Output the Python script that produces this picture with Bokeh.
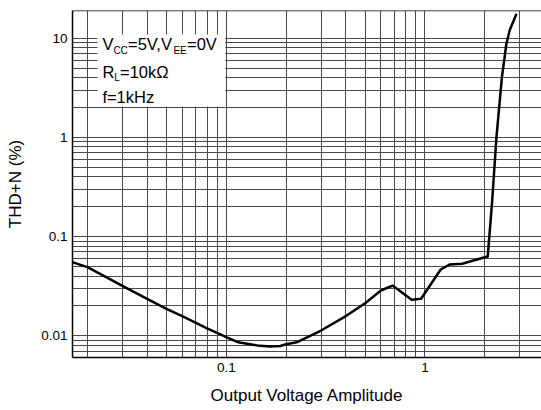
from bokeh.plotting import figure
from bokeh.models import FixedTicker, Label, BoxAnnotation, Span, CustomJSTickFormatter
from bokeh.embed import file_html
from bokeh.resources import INLINE

# Output voltage amplitude (V) and THD+N (%)
amp = [0.0168, 0.02, 0.0261, 0.03, 0.04, 0.05, 0.06, 0.07, 0.08, 0.09, 0.1,
       0.115, 0.143, 0.166, 0.187, 0.2, 0.226, 0.3, 0.4, 0.5, 0.6, 0.687,
       0.763, 0.857, 0.956, 1.2, 1.33, 1.54, 2.0, 2.07, 2.18, 2.29, 2.44,
       2.57, 2.67, 2.89]
thd = [0.0552, 0.0492, 0.037, 0.0318, 0.0235, 0.0187, 0.0158, 0.0136, 0.0119,
       0.0107, 0.0097, 0.0086, 0.0080, 0.0078, 0.0079, 0.0082, 0.0086, 0.0113,
       0.0158, 0.0213, 0.0286, 0.0321, 0.0275, 0.0231, 0.0236, 0.0466, 0.0523,
       0.0532, 0.0619, 0.063, 0.231, 1.0, 4.05, 8.78, 12.0, 17.6]

x_major = [0.1, 1]
x_minor = [0.02, 0.03, 0.04, 0.05, 0.06, 0.07, 0.08, 0.09,
           0.2, 0.3, 0.4, 0.5, 0.6, 0.7, 0.8, 0.9, 2, 3]
y_major = [0.01, 0.1, 1, 10]
y_minor = [0.007, 0.008, 0.009,
           0.02, 0.03, 0.04, 0.05, 0.06, 0.07, 0.08, 0.09,
           0.2, 0.3, 0.4, 0.5, 0.6, 0.7, 0.8, 0.9,
           2, 3, 4, 5, 6, 7, 8, 9]

FONT = "Liberation Sans"
GRID = "#4a4a4a"

p = figure(width=541, height=410, x_axis_type="log", y_axis_type="log",
           x_range=(0.01683, 3.86), y_range=(0.00604, 19.0),
           output_backend="svg", toolbar_location=None,
           min_border_left=72, min_border_right=0, min_border_top=10,
           min_border_bottom=53)
p.outline_line_color = None
p.background_fill_color = "white"

fmt = CustomJSTickFormatter(code="return String(tick);")
p.xaxis.ticker = FixedTicker(ticks=x_major, minor_ticks=x_minor)
p.yaxis.ticker = FixedTicker(ticks=y_major, minor_ticks=y_minor)
for ax in (p.xaxis[0], p.yaxis[0]):
    ax.formatter = fmt
    ax.major_tick_out = 0
    ax.major_tick_in = 0
    ax.minor_tick_out = 0
    ax.minor_tick_in = 0
    ax.axis_line_color = "black"
    ax.axis_line_width = 1.5
    ax.major_label_text_font = FONT
    ax.major_label_text_font_size = "13.5px"
    ax.major_label_text_color = "black"
    ax.major_label_standoff = 5
    ax.axis_label_text_font = FONT
    ax.axis_label_text_font_size = "17px"
    ax.axis_label_text_font_style = "normal"
    ax.axis_label_text_color = "black"

p.xaxis.axis_label = "Output Voltage Amplitude"
p.yaxis.axis_label = "THD+N (%)"
p.xaxis.axis_label_standoff = 11
p.yaxis.axis_label_standoff = 13

for g in (p.xgrid[0], p.ygrid[0]):
    g.grid_line_color = GRID
    g.grid_line_width = 1
    g.minor_grid_line_color = GRID
    g.minor_grid_line_width = 1

p.add_layout(Span(location=19.0, dimension="width", line_color="black", line_width=1.5))

# condition box
p.add_layout(BoxAnnotation(left=0.0225, right=0.0988, bottom=2.05, top=10.9,
                           fill_color="white", fill_alpha=1.0, line_color=None,
                           level="underlay"))

tx = 0.0238
def lab(text, y, xoff, size, yoff=0):
    p.add_layout(Label(x=tx, y=y, x_offset=xoff, y_offset=yoff + 3, text=text,
                       text_font=FONT, text_font_size=size, text_color="black",
                       text_baseline="alphabetic", text_align="left"))

main = "16.5px"
sub = "10px"
lab("V", 8.06, 0, main)
lab("CC", 8.06, 11.0, sub, -6)
lab("=5V,V", 8.06, 25.6, main)
lab("EE", 8.06, 71.0, sub, -6)
lab("=0V", 8.06, 84.6, main)
lab("R", 4.21, 0, main)
lab("L", 4.21, 11.9, sub, -5)
lab("=10k\u03a9", 4.21, 17.6, main)
lab("f=1kHz", 2.36, 0, main)

p.line(amp, thd, line_color="black", line_width=2.5, line_join="round")

open("out.html", "w").write(file_html(p, INLINE))
